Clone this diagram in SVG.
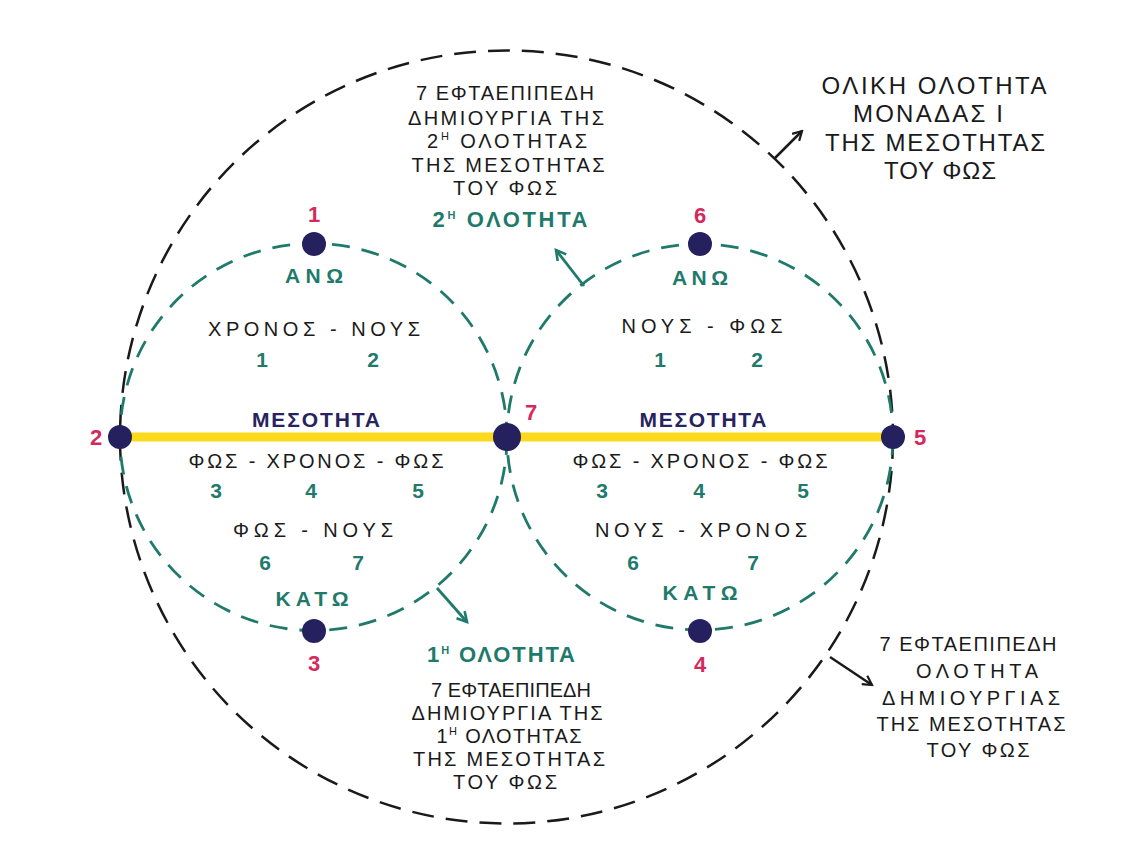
<svg xmlns="http://www.w3.org/2000/svg" width="1121" height="851" viewBox="0 0 1121 851">
<style>
text{font-family:"Liberation Sans","DejaVu Sans",sans-serif;text-anchor:middle;}
.blk{fill:#1a1a1a;font-size:20px;}
.big{fill:#1a1a1a;font-size:24px;}
.mid{fill:#1a1a1a;font-size:20px;}
.tl{fill:#1f7a6c;font-size:21px;font-weight:bold;}
.num{fill:#1f7a6c;font-size:21px;font-weight:bold;}
.nv{fill:#27235f;font-size:21px;font-weight:bold;}
.pk{fill:#d42a5b;font-size:22px;font-weight:bold;}
.head{fill:#1f7a6c;font-size:22px;font-weight:bold;}
.sup{font-size:11px;}
.outer{fill:none;stroke:#1a1a1a;stroke-width:2.5;stroke-dasharray:22 12;}
.inner{fill:none;stroke:#1f7a6c;stroke-width:2.8;stroke-dasharray:18 12;}
.node{fill:#25215e;}
.arrB{fill:none;stroke:#1a1a1a;stroke-width:2.5;}
.arrT{fill:none;stroke:#1f7a6c;stroke-width:2.8;}
</style>
<defs>
<marker id="hb" viewBox="0 0 12 12" refX="10" refY="6" markerWidth="12" markerHeight="12" markerUnits="userSpaceOnUse" orient="auto">
<path d="M1,1 L10,6 L1,11" fill="none" stroke="#1a1a1a" stroke-width="2.2"/>
</marker>
<marker id="ht" viewBox="0 0 12 12" refX="10" refY="6" markerWidth="13" markerHeight="13" markerUnits="userSpaceOnUse" orient="auto">
<path d="M1,1 L10,6 L1,11" fill="none" stroke="#1f7a6c" stroke-width="2.4"/>
</marker>
</defs>
<rect width="1121" height="851" fill="#ffffff"/>

<g id="connectors">
<circle class="outer" cx="506.5" cy="437" r="386.5"/>
<circle class="inner" cx="313.5" cy="437" r="193.5"/>
<circle class="inner" cx="700" cy="437" r="193"/>
<line x1="120" y1="437" x2="893" y2="437" stroke="#fcd91b" stroke-width="9"/>
<line class="arrB" x1="775" y1="158" x2="802" y2="131" marker-end="url(#hb)"/>
<line class="arrB" x1="830" y1="657" x2="872" y2="685" marker-end="url(#hb)"/>
<line class="arrT" x1="584" y1="286" x2="556" y2="250" marker-end="url(#ht)"/>
<line class="arrT" x1="437" y1="588" x2="467" y2="622" marker-end="url(#ht)"/>
</g>

<g id="node-1"><circle class="node" cx="314" cy="244" r="12"/><text class="pk" x="314" y="222">1</text></g>
<g id="node-6"><circle class="node" cx="700" cy="244" r="12"/><text class="pk" x="700" y="223">6</text></g>
<g id="node-2"><circle class="node" cx="120" cy="437" r="12"/><text class="pk" x="96" y="445">2</text></g>
<g id="node-7"><circle class="node" cx="507" cy="437" r="14"/><text class="pk" x="531" y="420">7</text></g>
<g id="node-5"><circle class="node" cx="893" cy="437" r="12"/><text class="pk" x="920" y="445">5</text></g>
<g id="node-3"><circle class="node" cx="314" cy="631" r="12"/><text class="pk" x="314" y="671">3</text></g>
<g id="node-4"><circle class="node" cx="700" cy="631" r="12"/><text class="pk" x="700" y="672">4</text></g>

<g id="title-top-right">
<text class="big" x="934" y="94" textLength="225" lengthAdjust="spacing">ΟΛΙΚΗ ΟΛΟΤΗΤΑ</text>
<text class="big" x="928" y="122" textLength="150" lengthAdjust="spacing">ΜΟΝΑΔΑΣ Ι</text>
<text class="big" x="935" y="151" textLength="220" lengthAdjust="spacing">ΤΗΣ ΜΕΣΟΤΗΤΑΣ</text>
<text class="big" x="940" y="179" textLength="112" lengthAdjust="spacing">ΤΟΥ ΦΩΣ</text>
</g>

<g id="note-top">
<text class="blk" x="505" y="100" textLength="178" lengthAdjust="spacing">7 ΕΦΤΑΕΠΙΠΕΔΗ</text>
<text class="blk" x="506" y="125" textLength="196" lengthAdjust="spacing">ΔΗΜΙΟΥΡΓΙΑ ΤΗΣ</text>
<text class="blk" x="507" y="148" textLength="160" lengthAdjust="spacing">2<tspan class="sup" dy="-8">Η</tspan><tspan dy="8"> ΟΛΟΤΗΤΑΣ</tspan></text>
<text class="blk" x="508" y="172" textLength="193" lengthAdjust="spacing">ΤΗΣ ΜΕΣΟΤΗΤΑΣ</text>
<text class="blk" x="505" y="195" textLength="104" lengthAdjust="spacing">ΤΟΥ ΦΩΣ</text>
<text class="head" x="510" y="227" textLength="155" lengthAdjust="spacing">2<tspan class="sup" dy="-8">Η</tspan><tspan dy="8"> ΟΛΟΤΗΤΑ</tspan></text>
</g>

<g id="circle-left">
<text class="tl" x="314" y="283" textLength="58" lengthAdjust="spacing">ΑΝΩ</text>
<text class="mid" x="314" y="336" textLength="212" lengthAdjust="spacing">ΧΡΟΝΟΣ - ΝΟΥΣ</text>
<text class="num" x="262" y="367">1</text>
<text class="num" x="373" y="367">2</text>
<text class="nv" x="316" y="427" textLength="128" lengthAdjust="spacing">ΜΕΣΟΤΗΤΑ</text>
<text class="mid" x="316" y="468" textLength="255" lengthAdjust="spacing">ΦΩΣ - ΧΡΟΝΟΣ - ΦΩΣ</text>
<text class="num" x="216" y="498">3</text>
<text class="num" x="311" y="498">4</text>
<text class="num" x="418" y="498">5</text>
<text class="mid" x="313" y="537" textLength="160" lengthAdjust="spacing">ΦΩΣ - ΝΟΥΣ</text>
<text class="num" x="265" y="570">6</text>
<text class="num" x="358" y="570">7</text>
<text class="tl" x="312" y="606" textLength="73" lengthAdjust="spacing">ΚΑΤΩ</text>
</g>

<g id="circle-right">
<text class="tl" x="700" y="285" textLength="56" lengthAdjust="spacing">ΑΝΩ</text>
<text class="mid" x="702" y="333" textLength="161" lengthAdjust="spacing">ΝΟΥΣ - ΦΩΣ</text>
<text class="num" x="660" y="367">1</text>
<text class="num" x="757" y="367">2</text>
<text class="nv" x="703" y="427" textLength="127" lengthAdjust="spacing">ΜΕΣΟΤΗΤΑ</text>
<text class="mid" x="700" y="468" textLength="255" lengthAdjust="spacing">ΦΩΣ - ΧΡΟΝΟΣ - ΦΩΣ</text>
<text class="num" x="602" y="498">3</text>
<text class="num" x="699" y="498">4</text>
<text class="num" x="803" y="498">5</text>
<text class="mid" x="701" y="537" textLength="212" lengthAdjust="spacing">ΝΟΥΣ - ΧΡΟΝΟΣ</text>
<text class="num" x="633" y="570">6</text>
<text class="num" x="753" y="570">7</text>
<text class="tl" x="700" y="600" textLength="75" lengthAdjust="spacing">ΚΑΤΩ</text>
</g>

<g id="note-bottom">
<text class="head" x="501" y="662" textLength="148" lengthAdjust="spacing">1<tspan class="sup" dy="-8">Η</tspan><tspan dy="8"> ΟΛΟΤΗΤΑ</tspan></text>
<text class="blk" x="511" y="697" textLength="160" lengthAdjust="spacing">7 ΕΦΤΑΕΠΙΠΕΔΗ</text>
<text class="blk" x="507" y="720" textLength="191" lengthAdjust="spacing">ΔΗΜΙΟΥΡΓΙΑ ΤΗΣ</text>
<text class="blk" x="509" y="743" textLength="145" lengthAdjust="spacing">1<tspan class="sup" dy="-8">Η</tspan><tspan dy="8"> ΟΛΟΤΗΤΑΣ</tspan></text>
<text class="blk" x="509" y="766" textLength="192" lengthAdjust="spacing">ΤΗΣ ΜΕΣΟΤΗΤΑΣ</text>
<text class="blk" x="505" y="789" textLength="104" lengthAdjust="spacing">ΤΟΥ ΦΩΣ</text>
</g>

<g id="note-bottom-right">
<text class="blk" x="968" y="651" textLength="177" lengthAdjust="spacing">7 ΕΦΤΑΕΠΙΠΕΔΗ</text>
<text class="blk" x="977" y="678" textLength="122" lengthAdjust="spacing">ΟΛΟΤΗΤΑ</text>
<text class="blk" x="971" y="705" textLength="178" lengthAdjust="spacing">ΔΗΜΙΟΥΡΓΙΑΣ</text>
<text class="blk" x="971" y="731" textLength="189" lengthAdjust="spacing">ΤΗΣ ΜΕΣΟΤΗΤΑΣ</text>
<text class="blk" x="978" y="757" textLength="103" lengthAdjust="spacing">ΤΟΥ ΦΩΣ</text>
</g>
</svg>
